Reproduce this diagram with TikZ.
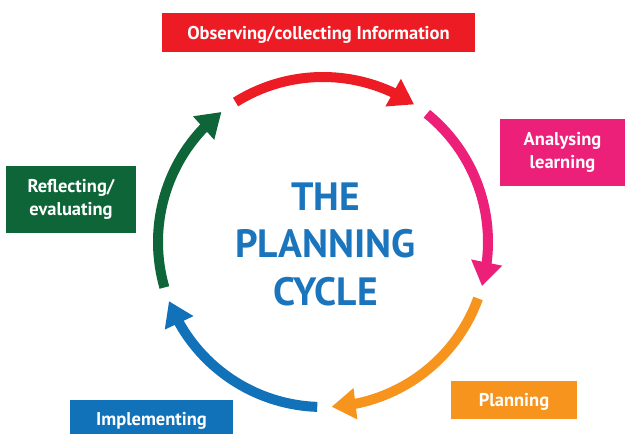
\documentclass[tikz,border=0pt]{standalone}
\usepackage{fontspec}
\setmainfont{PT Sans}
\usetikzlibrary{arrows.meta,bending}
\definecolor{cycRed}{HTML}{ED1C24}
\definecolor{cycPink}{HTML}{EC1F79}
\definecolor{cycOrange}{HTML}{F7941D}
\definecolor{cycBlue}{HTML}{1172BA}
\definecolor{cycGreen}{HTML}{0E6638}
\definecolor{titleBlue}{HTML}{1B75BC}
\begin{document}
\begin{tikzpicture}[x=1pt,y=1pt,
  label box/.style={fill=#1, text=white, inner sep=0pt, align=center,
    font=\fontsize{18.5}{22.5}\selectfont\bfseries},
  one line/.style={text height=14pt, text depth=0pt},
  cycle arrow/.style={draw=#1, line width=10pt,
    -{Triangle[width=30pt,length=24pt]}}]
\useasboundingbox (0,0) rectangle (625,434);
\clip (0,0) rectangle (625,434);

% centre of the cycle
\coordinate (c) at (323,192);
\def\R{165pt}

% title
\node[text=titleBlue, align=center,
  font=\fontsize{39.5}{47.5}\selectfont\bfseries] (title) at (325.5,190)
  {THE\\PLANNING\\CYCLE};

% stage labels
\node[label box=cycRed, one line, minimum width=313pt, minimum height=39pt] (observe)
  at (318.5,401.5) {Observing/collecting Information};
\node[label box=cycPink, minimum width=125pt, minimum height=67pt] (analyse)
  at (562.5,281.5) {Analysing\\learning};
\node[label box=cycOrange, one line, minimum width=126pt, minimum height=38pt] (plan)
  at (514,34) {Planning};
\node[label box=cycBlue, one line, minimum width=163pt, minimum height=38pt] (implement)
  at (151.5,15) {Implementing};
\node[label box=cycGreen, minimum width=130pt, minimum height=67pt] (reflect)
  at (71,234.5) {Reflecting/\\evaluating};

% arrows around the circle
\draw[cycle arrow=cycRed]    ([shift={(122:\R)}]c) arc[start angle=122, end angle=56.5, radius=\R];
\draw[cycle arrow=cycPink]   ([shift={(51:\R)}]c)  arc[start angle=51, end angle=-15.5, radius=\R];
\draw[cycle arrow=cycOrange] ([shift={(-20:\R)}]c) arc[start angle=-20, end angle=-87, radius=\R];
\draw[cycle arrow=cycBlue]   ([shift={(-92:\R)}]c) arc[start angle=-92, end angle=-159, radius=\R];
\draw[cycle arrow=cycGreen]  ([shift={(-164:\R)}]c) arc[start angle=-164, end angle=-232, radius=\R];
\end{tikzpicture}
\end{document}
